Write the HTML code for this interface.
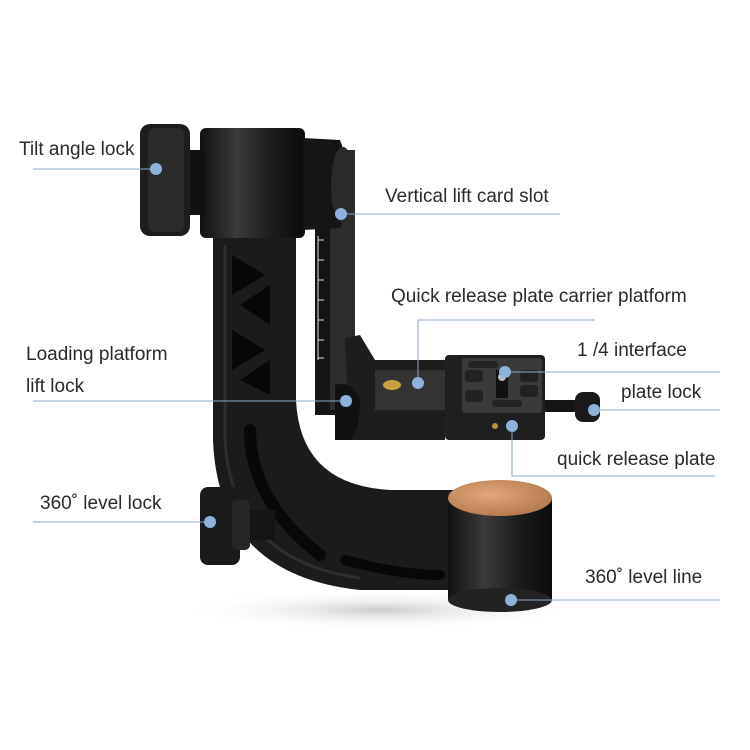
<!DOCTYPE html>
<html><head><style>
html,body{margin:0;padding:0;background:#fff;}
.t{position:absolute;font-family:"Liberation Sans",sans-serif;font-size:19px;color:#2a2a2a;white-space:nowrap;}
</style></head><body>
<div style="position:relative;width:750px;height:750px;overflow:hidden;">
<svg width="750" height="750" style="position:absolute;left:0;top:0">
<defs>
<linearGradient id="cyl" x1="0" x2="1" y1="0" y2="0"><stop offset="0" stop-color="#111"/><stop offset=".35" stop-color="#3a3a3a"/><stop offset=".7" stop-color="#1a1a1a"/><stop offset="1" stop-color="#0c0c0c"/></linearGradient>
<radialGradient id="cu" cx=".4" cy=".4" r=".7"><stop offset="0" stop-color="#e0a878"/><stop offset="1" stop-color="#b0764a"/></radialGradient>
<radialGradient id="sh" cx=".5" cy=".5" r=".5"><stop offset="0" stop-color="#999" stop-opacity=".5"/><stop offset="1" stop-color="#fff" stop-opacity="0"/></radialGradient>
</defs>
<ellipse cx="380" cy="610" rx="200" ry="20" fill="url(#sh)"/>
<path d="M213,235 L213,440 Q218,575 360,590 L470,590 L470,490 L390,490 Q300,485 296,400 L296,235 Z" fill="#1b1b1b"/>
<path d="M225,245 L225,440 Q232,560 360,578" stroke="#2e2e2e" stroke-width="3" fill="none"/>
<path d="M232,255 L265,275 L232,295 Z M270,285 L240,305 L270,325 Z M232,330 L265,350 L232,370 Z M270,360 L240,380 L270,395Z" fill="#070707"/>
<path d="M250,430 Q250,500 320,555" stroke="#080808" stroke-width="12" stroke-linecap="round" fill="none"/>
<path d="M345,560 Q400,575 440,575" stroke="#080808" stroke-width="10" stroke-linecap="round" fill="none"/>
<rect x="315" y="225" width="30" height="190" fill="#151515"/>
<rect x="330" y="150" width="25" height="260" fill="#2c2c2c"/>
<g stroke="#ddd" stroke-width="1">
<line x1="318" y1="236" x2="318" y2="360"/>
<line x1="318" y1="240" x2="324" y2="240"/><line x1="318" y1="260" x2="324" y2="260"/><line x1="318" y1="280" x2="324" y2="280"/><line x1="318" y1="300" x2="324" y2="300"/><line x1="318" y1="320" x2="324" y2="320"/><line x1="318" y1="340" x2="324" y2="340"/><line x1="318" y1="358" x2="324" y2="358"/>
</g>
<rect x="200" y="128" width="105" height="110" rx="6" fill="url(#cyl)"/>
<path d="M303,138 L340,140 Q358,185 340,228 L303,230 Z" fill="#151515"/>
<ellipse cx="343" cy="185" rx="12" ry="38" fill="#2a2a2a"/>
<rect x="185" y="150" width="20" height="65" fill="#111"/>
<rect x="140" y="124" width="50" height="112" rx="10" fill="#1c1c1c"/>
<rect x="148" y="128" width="36" height="104" rx="6" fill="#2b2b2b"/>
<path d="M345,338 L360,335 L375,360 L445,360 L445,440 L350,440 Z" fill="#1d1d1d"/>
<rect x="375" y="370" width="70" height="40" fill="#333"/>
<ellipse cx="392" cy="385" rx="9" ry="5" fill="#c9a13a"/>
<path d="M335,385 Q352,380 360,400 Q360,430 350,440 L335,440 Z" fill="#111"/>
<rect x="445" y="355" width="100" height="85" rx="4" fill="#1f1f1f"/>
<rect x="462" y="358" width="80" height="55" rx="3" fill="#3a3a3a"/>
<rect x="468" y="361" width="30" height="7" rx="3" fill="#222"/><rect x="465" y="370" width="18" height="12" rx="3" fill="#222"/><rect x="520" y="370" width="18" height="12" rx="3" fill="#222"/><rect x="465" y="390" width="18" height="12" rx="3" fill="#222"/><rect x="520" y="385" width="18" height="12" rx="3" fill="#222"/><rect x="492" y="400" width="30" height="7" rx="3" fill="#222"/>
<rect x="496" y="370" width="12" height="28" fill="#111"/><circle cx="502" cy="377" r="4" fill="#bbb"/>
<circle cx="495" cy="426" r="3" fill="#b89440"/>
<rect x="545" y="400" width="30" height="12" fill="#151515"/>
<rect x="575" y="392" width="25" height="30" rx="8" fill="#1a1a1a"/>
<rect x="448" y="498" width="104" height="102" fill="url(#cyl)"/>
<ellipse cx="500" cy="600" rx="52" ry="12" fill="#222"/>
<ellipse cx="500" cy="498" rx="52" ry="18" fill="url(#cu)"/>
<rect x="240" y="510" width="35" height="30" fill="#151515"/>
<rect x="200" y="487" width="40" height="78" rx="8" fill="#1a1a1a"/>
<rect x="232" y="500" width="18" height="50" rx="5" fill="#262626"/>
<g stroke="#8eaac8" stroke-width="1" fill="none">
<line x1="33" y1="169" x2="157" y2="169"/>
<line x1="340" y1="214" x2="560" y2="214"/>
<polyline points="418,381 418,320 595,320"/>
<line x1="505" y1="372" x2="720" y2="372"/>
<line x1="593" y1="410" x2="720" y2="410"/>
<line x1="33" y1="401" x2="345" y2="401"/>
<polyline points="512,428 512,476 715,476"/>
<line x1="33" y1="522" x2="210" y2="522"/>
<line x1="510" y1="600" x2="720" y2="600"/>
</g>
<g fill="#8fb2da">
<circle cx="156" cy="169" r="6"/><circle cx="341" cy="214" r="6"/><circle cx="418" cy="383" r="6"/><circle cx="505" cy="372" r="6"/><circle cx="594" cy="410" r="6"/><circle cx="346" cy="401" r="6"/><circle cx="512" cy="426" r="6"/><circle cx="210" cy="522" r="6"/><circle cx="511" cy="600" r="6"/>
</g>
</svg>
<div class="t" style="left:19px;top:139px">Tilt angle lock</div>
<div class="t" style="left:385px;top:186px">Vertical lift card slot</div>
<div class="t" style="left:391px;top:286px">Quick release plate carrier platform</div>
<div class="t" style="left:577px;top:340px">1 /4 interface</div>
<div class="t" style="left:621px;top:382px">plate lock</div>
<div class="t" style="left:26px;top:344px">Loading platform</div>
<div class="t" style="left:26px;top:376px">lift lock</div>
<div class="t" style="left:557px;top:449px">quick release plate</div>
<div class="t" style="left:40px;top:493px">360˚ level lock</div>
<div class="t" style="left:585px;top:567px">360˚ level line</div>
</div>
</body></html>
